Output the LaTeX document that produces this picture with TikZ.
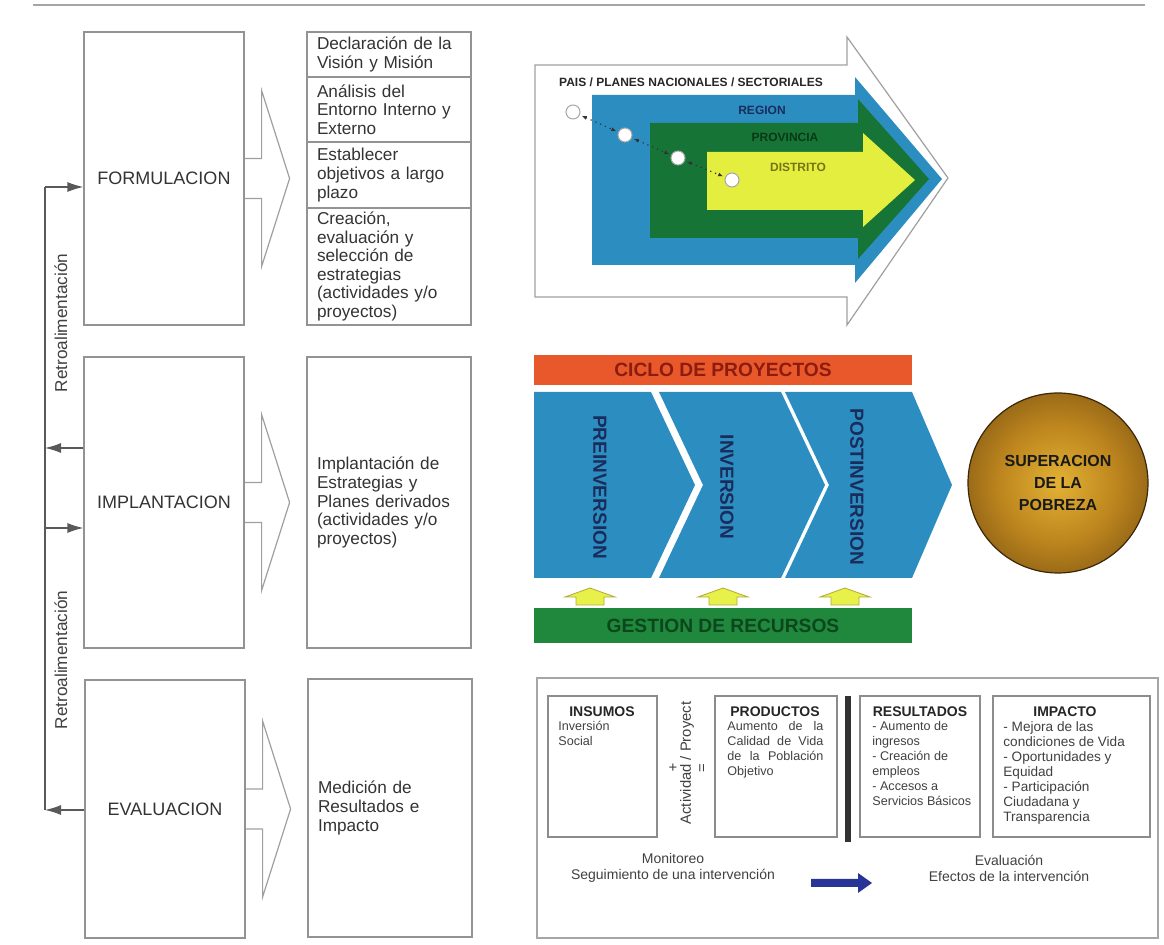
\documentclass[tikz,border=0pt]{standalone}
\usepackage{fontspec}
\setmainfont{Liberation Sans}
\usetikzlibrary{arrows.meta,calc}

\definecolor{stepblue}{RGB}{44,142,192}
\definecolor{lvlgreen}{RGB}{22,116,54}
\definecolor{lvllime}{RGB}{228,238,62}
\definecolor{cicloorange}{RGB}{232,88,42}
\definecolor{ciclotext}{RGB}{140,28,16}
\definecolor{gestgreen}{RGB}{32,136,60}
\definecolor{gesttext}{RGB}{12,70,28}
\definecolor{phasetext}{RGB}{26,44,92}
\definecolor{arrowyellow}{RGB}{232,240,74}
\definecolor{monitorblue}{RGB}{40,52,150}
\definecolor{goldlight}{RGB}{226,178,52}
\definecolor{goldmid}{RGB}{190,134,30}
\definecolor{golddark}{RGB}{112,74,16}
\definecolor{goldrim}{RGB}{60,38,8}

\pgfdeclareradialshading{goldglow}{\pgfpoint{0bp}{0bp}}{color(0bp)=(goldlight); color(16bp)=(goldmid); color(36bp)=(golddark); color(50bp)=(goldrim)}

\newcommand{\jline}[1]{\makebox[48pt][s]{#1}}

\begin{document}
\begin{tikzpicture}[x=0.5pt,y=-0.5pt,
	stagebox/.style={draw=gray!85, line width=0.6pt, minimum width=80pt, inner sep=0pt, text=black!80, font=\fontsize{9}{10}\selectfont},
	listbox/.style={draw=gray!85, line width=0.6pt, minimum width=82pt, text width=72pt, inner xsep=5pt, inner ysep=0pt, align=left, text=black!80, font=\fontsize{8.6}{9.3}\selectfont},
	fatarrow/.style={draw=gray!75, line width=0.6pt},
	fbline/.style={draw=black!65, line width=0.6pt},
	fbtip/.style={-{Latex[length=8pt,width=5pt]}},
	retro/.style={rotate=90, inner sep=0pt, text=black!75, font=\fontsize{8.6}{9}\selectfont},
	lvltext/.style={inner sep=0pt, font=\fontsize{6}{6.5}\selectfont\bfseries},
	lvldot/.style={circle, draw=gray!70, fill=white, line width=0.5pt, minimum size=7pt, inner sep=0pt},
	dotconn/.style={dotted, black!80, line width=0.6pt, {Latex[length=2.5pt,width=2pt]}-{Latex[length=2.5pt,width=2pt]}, shorten <=1pt, shorten >=1pt},
	barbox/.style={minimum width=189pt, inner sep=0pt, font=\fontsize{9.6}{10}\selectfont\bfseries},
	phase/.style={rotate=-90, inner sep=0pt, text=phasetext, font=\fontsize{9.5}{10}\selectfont\bfseries},
	upar/.style={fill=arrowyellow, draw=olive!70, line width=0.4pt},
	goal/.style={circle, minimum size=90pt, inner sep=0pt, draw=goldrim, line width=0.6pt, shading=goldglow, align=center, text=black!90, font=\fontsize{8}{11}\selectfont\bfseries},
	outbox/.style={draw=gray!70, line width=0.6pt, minimum width=310.5pt, minimum height=130pt},
	inbox/.style={draw=gray!90, line width=0.8pt, minimum height=70.5pt},
	boxhead/.style={inner sep=0pt, text=black!85, font=\fontsize{7}{8}\selectfont\bfseries},
	boxbody/.style={anchor=north west, inner sep=0pt, align=left, text=black!75, font=\fontsize{6.3}{7.5}\selectfont},
	midtext/.style={inner sep=0pt, text=black!75, font=\fontsize{7.4}{8}\selectfont},
	montext/.style={inner sep=0pt, align=center, text=black!75, font=\fontsize{7}{8}\selectfont}]

	\useasboundingbox (0,0) rectangle (1164,945);
	\draw[gray!70, line width=0.8pt] (33,5) -- (1145,5);

	\node[stagebox, minimum height=146.5pt] (form) at (164,178.5) {FORMULACION};
	\node[stagebox, minimum height=145.5pt] (impl) at (164,502.5) {IMPLANTACION};
	\node[stagebox, minimum height=129pt] (eval) at (165,809) {EVALUACION};

	\foreach \s in {form,impl,eval}
		\draw[fatarrow] ($(\s.east)+(0,-20)$) -- ++(17,0) -- ++(0,-68) -- ($(\s.east)+(45,0)$) -- ($(\s.east)+(17,88)$) -- ++(0,-68) -- ++(-17,0);

	\node[listbox, minimum height=22.5pt] (decl) at (389,54.5) {Declaración de la\\Visión y Misión};
	\node[listbox, minimum height=32.5pt] (anal) at (389,109.5) {Análisis del\\Entorno Interno y\\Externo};
	\node[listbox, minimum height=33pt] (estab) at (389,175) {Establecer\\objetivos a largo\\plazo};
	\node[listbox, minimum height=58.5pt] (crea) at (389,266.5) {Creación,\\evaluación y\\selección de\\estrategias\\(actividades y/o\\proyectos)};
	\node[listbox, minimum height=145.5pt] (impltxt) at (389,502.5) {Implantación de\\Estrategias y\\Planes derivados\\(actividades y/o\\proyectos)};
	\node[listbox, minimum height=129pt] (evaltxt) at (390,808) {Medición de\\Resultados e\\Impacto};

	\coordinate (rtop) at (45,187);
	\coordinate (rmida) at (45,448);
	\coordinate (rmidb) at (45,528);
	\coordinate (rbot) at (45,810);
	\draw[fbline] (rtop) -- (rbot);
	\draw[fbline,fbtip] (rtop) -- (rtop -| form.west);
	\draw[fbline,fbtip] (rmida -| impl.west) -- (rmida);
	\draw[fbline,fbtip] (rmidb) -- (rmidb -| impl.west);
	\draw[fbline,fbtip] (rbot -| eval.west) -- (rbot);
	\node[retro] (retroa) at (61,323) {Retroalimentación};
	\node[retro] (retrob) at (61,660) {Retroalimentación};

	\draw[fatarrow] (535,65) -- (847,65) -- (847,37) -- (948,178) -- (847,325) -- (847,297) -- (535,297) -- cycle;
	\fill[stepblue] (592,95) -- (855,95) -- (855,77) -- (942,179) -- (855,283) -- (855,265) -- (592,265) -- cycle;
	\fill[lvlgreen] (650,123) -- (858,123) -- (858,99) -- (929,179) -- (858,259) -- (858,238) -- (650,238) -- cycle;
	\fill[lvllime] (707,152) -- (863,152) -- (863,133) -- (915,180) -- (863,227) -- (863,210) -- (707,210) -- cycle;
	\node[lvltext, text=black!85] (pais) at (691,82) {PAIS / PLANES NACIONALES / SECTORIALES};
	\node[lvltext, text=phasetext] (region) at (762,110) {REGION};
	\node[lvltext, text=gesttext!80!black] (prov) at (785,137) {PROVINCIA};
	\node[lvltext, text=olive!80!black] (dist) at (798,167) {DISTRITO};
	\node[lvldot] (da) at (573,112) {};
	\node[lvldot] (db) at (625,135) {};
	\node[lvldot] (dc) at (678,158) {};
	\node[lvldot] (dd) at (732,180) {};
	\draw[dotconn] (da) -- (db);
	\draw[dotconn] (db) -- (dc);
	\draw[dotconn] (dc) -- (dd);

	\node[barbox, minimum height=15pt, fill=cicloorange, text=ciclotext] (ciclo) at (723,370) {CICLO DE PROYECTOS};
	\fill[stepblue] (534,392) -- (651,392) -- (695,485) -- (651,578) -- (534,578) -- cycle;
	\fill[stepblue] (659,392) -- (781,392) -- (825,485) -- (781,578) -- (659,578) -- (703,485) -- cycle;
	\fill[stepblue] (785,392) -- (912,392) -- (952,485) -- (912,578) -- (785,578) -- (829,485) -- cycle;
	\node[phase] (pre) at (600,487) {PREINVERSION};
	\node[phase] (inv) at (727,487) {INVERSION};
	\node[phase] (post) at (857,487) {POSTINVERSION};
	\foreach \x in {590,723,845}
		\draw[upar] (\x,588) -- (\x+25,597) -- (\x+14,597) -- (\x+14,605) -- (\x-14,605) -- (\x-14,597) -- (\x-25,597) -- cycle;
	\node[barbox, minimum height=17.5pt, fill=gestgreen, text=gesttext] (gestion) at (723,625.5) {GESTION DE RECURSOS};
	\node[goal] (pobreza) at (1058,483) {SUPERACION\\DE LA\\POBREZA};

	\node[outbox] (mebox) at (847.5,808) {};
	\node[inbox, minimum width=54.5pt] (insumos) at (602.5,766.5) {};
	\node[inbox, minimum width=61pt] (productos) at (776,766.5) {};
	\node[inbox, minimum width=60pt] (resultados) at (920,766.5) {};
	\node[inbox, minimum width=78.5pt] (impacto) at (1071.5,766.5) {};
	\fill[black!80] (845,696) rectangle (851,842);

	\node[boxhead] (insumosT) at (602,712) {INSUMOS};
	\node[boxbody] (insumosB) at (558,721) {Inversión\\Social};
	\node[boxhead] (productosT) at (775,712) {PRODUCTOS};
	\node[boxbody] (productosB) at (727,721) {\jline{Aumento de la}\\\jline{Calidad de Vida}\\\jline{de la Población}\\Objetivo};
	\node[boxhead] (resultadosT) at (920,712) {RESULTADOS};
	\node[boxbody] (resultadosB) at (872,721) {- Aumento de\\ingresos\\- Creación de\\empleos\\- Accesos a\\Servicios Básicos};
	\node[boxhead] (impactoT) at (1065,712) {IMPACTO};
	\node[boxbody, font=\fontsize{6.8}{7.5}\selectfont] (impactoB) at (1003,721) {- Mejora de las\\condiciones de Vida\\- Oportunidades y\\Equidad\\- Participación\\Ciudadana y\\Transparencia};

	\node[midtext, rotate=90] (activ) at (687,763) {Actividad / Proyect};
	\node[midtext] (plus) at (673,768) {+};
	\node[midtext, rotate=90] (equal) at (703,768) {=};

	\node[montext] (monitor) at (673,868) {Monitoreo\\Seguimiento de una intervención};
	\node[montext] (evalua) at (1009,868) {Evaluación\\Efectos de la intervención};
	\fill[monitorblue] (811,879) -- (858,879) -- (858,873) -- (872,883) -- (858,893) -- (858,887) -- (811,887) -- cycle;
\end{tikzpicture}
\end{document}
